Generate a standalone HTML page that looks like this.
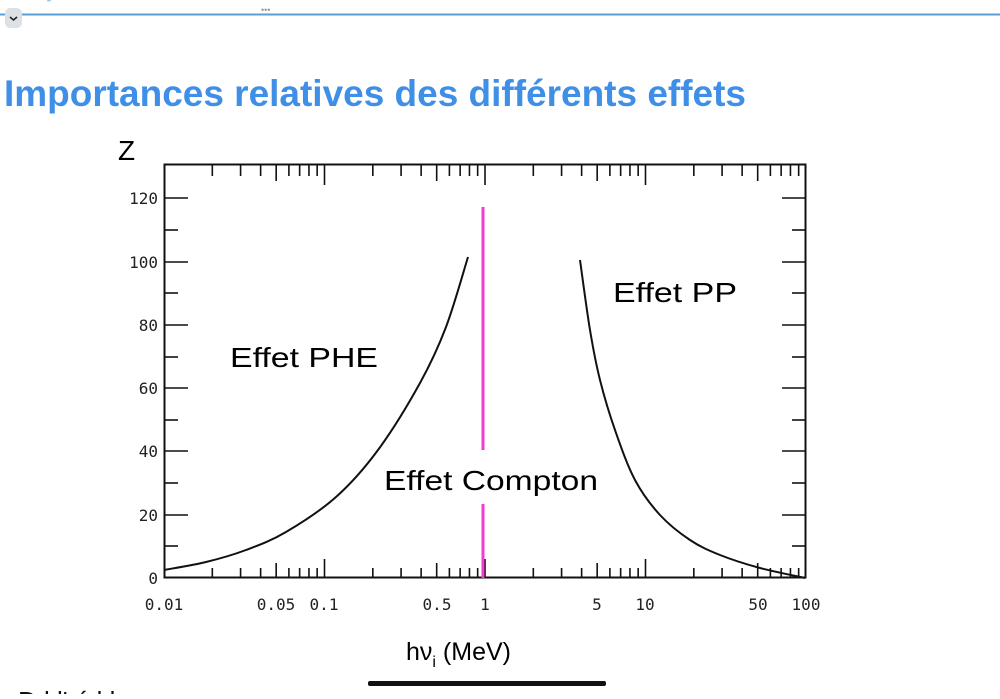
<!DOCTYPE html>
<html><head><style>
body{margin:0;background:#fff;width:1000px;height:694px;overflow:hidden;font-family:"Liberation Sans",sans-serif;}
</style></head><body>
<svg width="1000" height="694" xmlns="http://www.w3.org/2000/svg" font-family="Liberation Sans, sans-serif">
<text x="0" y="-3" font-size="22" fill="#9cc3ea">Ce ay     e     e  e         e  e e ee e e e e  e e      e</text>
<line x1="0" y1="14.5" x2="1000" y2="14.5" stroke="#5a9ed6" stroke-width="2"/>
<rect x="5" y="8" width="17" height="20" rx="5" fill="#dde1e6"/>
<path d="M10 17 L13.5 20 L17 17" stroke="#222" stroke-width="1.6" fill="none"/>
<text x="261" y="13" font-size="9" fill="#999">•••</text>
<text x="4" y="106" font-size="37" font-weight="bold" fill="#3f8fe6" textLength="742" lengthAdjust="spacingAndGlyphs">Importances relatives des différents effets</text>
<text x="118" y="160" font-size="28">Z</text>
<rect x="164.5" y="164.5" width="641" height="413" fill="none" stroke="#111" stroke-width="2"/>
<g stroke="#111" stroke-width="1.6">
<line x1="164" y1="198" x2="188" y2="198"/><line x1="164" y1="230" x2="178" y2="230"/>
<line x1="164" y1="262" x2="188" y2="262"/><line x1="164" y1="293" x2="178" y2="293"/>
<line x1="164" y1="325" x2="188" y2="325"/><line x1="164" y1="357" x2="178" y2="357"/>
<line x1="164" y1="388" x2="188" y2="388"/><line x1="164" y1="420" x2="178" y2="420"/>
<line x1="164" y1="451" x2="188" y2="451"/><line x1="164" y1="483" x2="178" y2="483"/>
<line x1="164" y1="515" x2="188" y2="515"/><line x1="164" y1="546" x2="178" y2="546"/>
<line x1="806" y1="198" x2="782" y2="198"/><line x1="806" y1="230" x2="792" y2="230"/>
<line x1="806" y1="262" x2="782" y2="262"/><line x1="806" y1="293" x2="792" y2="293"/>
<line x1="806" y1="325" x2="782" y2="325"/><line x1="806" y1="357" x2="792" y2="357"/>
<line x1="806" y1="388" x2="782" y2="388"/><line x1="806" y1="420" x2="792" y2="420"/>
<line x1="806" y1="451" x2="782" y2="451"/><line x1="806" y1="483" x2="792" y2="483"/>
<line x1="806" y1="515" x2="782" y2="515"/><line x1="806" y1="546" x2="792" y2="546"/>
</g>
<g id="xt" stroke="#111" stroke-width="1.6"></g>
<path id="c1" stroke="#111" stroke-width="2" fill="none"/>
<path id="c2" stroke="#111" stroke-width="2" fill="none"/>
<line x1="483" y1="207" x2="483" y2="450" stroke="#f03cd0" stroke-width="3"/>
<line x1="483" y1="504" x2="483" y2="578" stroke="#f03cd0" stroke-width="3"/>
<g font-size="16" fill="#222" font-family="DejaVu Sans Mono, monospace" text-anchor="end">
<text x="158" y="204">120</text><text x="158" y="268">100</text><text x="158" y="331">80</text>
<text x="158" y="394">60</text><text x="158" y="457">40</text><text x="158" y="521">20</text><text x="158" y="584">0</text>
</g>
<g font-size="16" fill="#222" font-family="DejaVu Sans Mono, monospace" text-anchor="middle">
<text x="164" y="610">0.01</text><text x="276" y="610">0.05</text><text x="324" y="610">0.1</text>
<text x="437" y="610">0.5</text><text x="485" y="610">1</text><text x="597" y="610">5</text>
<text x="645" y="610">10</text><text x="758" y="610">50</text><text x="806" y="610">100</text>
</g>
<text x="230" y="367" font-size="28" textLength="148" lengthAdjust="spacingAndGlyphs">Effet PHE</text>
<text x="613" y="302" font-size="28" textLength="124" lengthAdjust="spacingAndGlyphs">Effet PP</text>
<text x="384" y="490" font-size="28" textLength="214" lengthAdjust="spacingAndGlyphs">Effet Compton</text>
<text x="406" y="660" font-size="25">hν<tspan font-size="16" dy="7">i</tspan><tspan dy="-7"> (MeV)</tspan></text>
<rect x="368" y="681" width="238" height="5" rx="2" fill="#111"/>
<text x="18" y="710" font-size="26" fill="#111">D   l              l'        é      l    l   </text>
</svg>
<script>
var g=document.getElementById('xt'),s='';
for(var d=0;d<4;d++){for(var k=1;k<10;k++){var x=164+160.5*(d+Math.log10(k));if(k==1&&d==0)continue;
var L=(k==1)?20:(k==5?16:11);
s+='<line x1="'+x+'" y1="165" x2="'+x+'" y2="'+(165+L)+'"/>';
s+='<line x1="'+x+'" y1="577" x2="'+x+'" y2="'+(577-L+2)+'"/>';}}
g.innerHTML=s;
function cr(p){var d='M'+p[0][0]+' '+p[0][1];
for(var i=0;i<p.length-1;i++){var a=p[i-1]||p[i],b=p[i],c=p[i+1],e=p[i+2]||c;
d+=' C'+(b[0]+(c[0]-a[0])/6)+' '+(b[1]+(c[1]-a[1])/6)+' '+(c[0]-(e[0]-b[0])/6)+' '+(c[1]-(e[1]-b[1])/6)+' '+c[0]+' '+c[1];}return d;}
document.getElementById('c1').setAttribute('d',cr([[164,570],[206,562],[246,550],[286,532],[336,497],[378,450],[420,383],[446,327],[468,257]]));
document.getElementById('c2').setAttribute('d',cr([[580,260],[590,330],[600,380],[615,430],[635,480],[660,515],[690,540],[720,555],[760,568],[805,578]]));
</script>
</body></html>
